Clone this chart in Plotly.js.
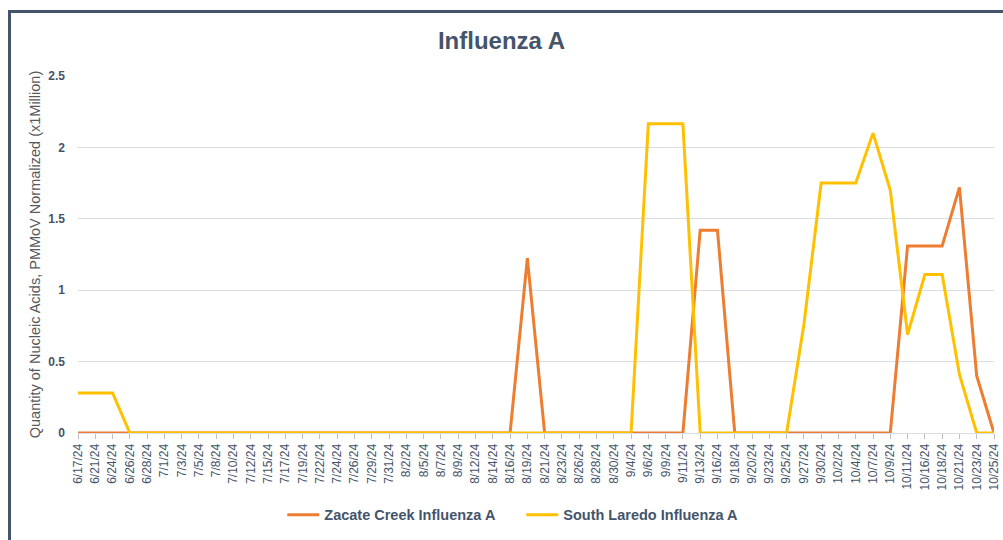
<!DOCTYPE html>
<html>
<head>
<meta charset="utf-8">
<script src="https://cdn.plot.ly/plotly-3.0.1.min.js"></script>
<style>
html,body{margin:0;padding:0;background:#fff;}
#chart{width:1003px;height:540px;position:absolute;left:0;top:0;}
#frame{position:absolute;left:8px;top:10px;width:1003px;height:540px;border-left:3px solid #44546A;border-top:3px solid #44546A;pointer-events:none;}
</style>
</head>
<body>
<div id="chart"></div>
<div id="frame"></div>
<script>
const dates = ["6/17/24","6/21/24","6/24/24","6/26/24","6/28/24","7/1/24","7/3/24","7/5/24","7/8/24","7/10/24","7/12/24","7/15/24","7/17/24","7/19/24","7/22/24","7/24/24","7/26/24","7/29/24","7/31/24","8/2/24","8/5/24","8/7/24","8/9/24","8/12/24","8/14/24","8/16/24","8/19/24","8/21/24","8/23/24","8/26/24","8/28/24","8/30/24","9/4/24","9/6/24","9/9/24","9/11/24","9/13/24","9/16/24","9/18/24","9/20/24","9/23/24","9/25/24","9/27/24","9/30/24","10/2/24","10/4/24","10/7/24","10/9/24","10/11/24","10/16/24","10/18/24","10/21/24","10/23/24","10/25/24"];

const zacateCreek = [0,0,0,0,0,0,0,0,0,0,0,0,0,0,0,0,0,0,0,0,0,0,0,0,0,0,1.225,0,0,0,0,0,0,0,0,0,1.42,1.42,0,0,0,0,0,0,0,0,0,0,1.31,1.31,1.31,1.72,0.40,0];

const southLaredo = [0.28,0.28,0.28,0,0,0,0,0,0,0,0,0,0,0,0,0,0,0,0,0,0,0,0,0,0,0,0,0,0,0,0,0,0,2.165,2.165,2.165,0,0,0,0,0,0,0.76,1.75,1.75,1.75,2.10,1.70,0.69,1.11,1.11,0.41,0,0];

const seriesNames = ["Zacate Creek Influenza A","South Laredo Influenza A"];
const yTicks = [0,0.5,1,1.5,2,2.5];
const yTickText = ["0","0.5","1","1.5","2","2.5"];

const textColor = "#44546A";
const gridColor = "#D9DDE5";
const font = "Liberation Sans, Arial, sans-serif";

const traces = [
  {x: dates, y: zacateCreek, name: seriesNames[0], type: "scatter", mode: "lines",
   line: {color: "#ED7D31", width: 3}},
  {x: dates, y: southLaredo, name: seriesNames[1], type: "scatter", mode: "lines",
   line: {color: "#FFC000", width: 3}}
];

const layout = {
  width: 1003, height: 540,
  margin: {l: 78, r: 9, t: 76, b: 102},
  paper_bgcolor: "#fff", plot_bgcolor: "#fff",
  title: {text: "<b>Influenza A</b>", x: 0.5, xanchor: "center", y: 0.925, yanchor: "middle",
          font: {family: font, size: 24, color: textColor}},
  xaxis: {
    type: "category", range: [0, dates.length - 1],
    tickangle: -90, tickfont: {family: font, size: 12, color: textColor},
    ticks: "outside", ticklen: 5, tickcolor: "#BFBFBF",
    showgrid: false, showline: true, linecolor: gridColor, linewidth: 1,
    automargin: false
  },
  yaxis: {
    range: [0, 2.5], tickvals: yTicks, ticktext: yTickText,
    tickfont: {family: font, size: 12, color: textColor, weight: "bold"},
    showgrid: true, gridcolor: gridColor, gridwidth: 1,
    zeroline: true, zerolinecolor: gridColor,
    ticks: "", ticklabelstandoff: 12,
    title: {text: "Quantity of Nucleic Acids, PMMoV Normalized (x1Million)",
            font: {family: font, size: 14.5, color: "#595959"}, standoff: 4},
    automargin: false
  },
  showlegend: true,
  legend: {orientation: "h", x: 0.223, xanchor: "left", y: -0.229, yanchor: "middle",
           font: {family: font, size: 14.5, color: textColor, weight: "bold"},
           itemwidth: 32, entrywidth: 192, entrywidthmode: "pixels"}
};

Plotly.newPlot("chart", traces, layout, {displayModeBar: false, staticPlot: true});
</script>
</body>
</html>
